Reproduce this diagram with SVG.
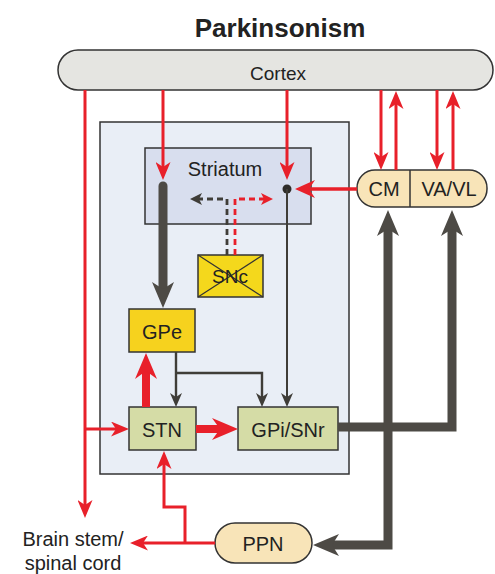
<svg xmlns="http://www.w3.org/2000/svg" width="495" height="574" viewBox="0 0 495 574">
<style>
  text { font-family: "Liberation Sans", Arial, sans-serif; fill: #222; text-anchor: middle; }
  .lbl { font-size: 20px; }
  .box { stroke: #333; stroke-width: 1.5; }
  .red { fill: none; stroke: #e8202a; stroke-width: 3; }
  .redT { fill: none; stroke: #e8202a; stroke-width: 8; }
  .dk { fill: none; stroke: #3f3d38; stroke-width: 2.4; }
  .dkT { fill: none; stroke: #4d4a45; stroke-width: 9; stroke-linejoin: miter; }
</style>
<defs>
  <marker id="rThin" markerUnits="userSpaceOnUse" markerWidth="18" markerHeight="15" refX="12" refY="7.5" orient="auto">
    <path d="M0,0 L18,7.5 L0,15 L5,7.5 Z" fill="#e8202a"/>
  </marker>
  <marker id="rMid" markerUnits="userSpaceOnUse" markerWidth="20" markerHeight="18" refX="12" refY="9" orient="auto">
    <path d="M0,0 L20,9 L0,18 L6,9 Z" fill="#e8202a"/>
  </marker>
  <marker id="rThick" markerUnits="userSpaceOnUse" markerWidth="26" markerHeight="22" refX="14" refY="11" orient="auto">
    <path d="M0,0 L26,11 L0,22 L8,11 Z" fill="#e8202a"/>
  </marker>
  <marker id="rDash" markerUnits="userSpaceOnUse" markerWidth="12" markerHeight="12" refX="6" refY="6" orient="auto">
    <path d="M0,0 L12,6 L0,12 L3,6 Z" fill="#e8202a"/>
  </marker>
  <marker id="kDash" markerUnits="userSpaceOnUse" markerWidth="12" markerHeight="12" refX="6" refY="6" orient="auto">
    <path d="M0,0 L12,6 L0,12 L3,6 Z" fill="#3f3d38"/>
  </marker>
  <marker id="kThin" markerUnits="userSpaceOnUse" markerWidth="14" markerHeight="12" refX="8" refY="6" orient="auto">
    <path d="M0,0 L14,6 L0,12 L4,6 Z" fill="#3f3d38"/>
  </marker>
  <marker id="kThick" markerUnits="userSpaceOnUse" markerWidth="26" markerHeight="22" refX="13" refY="11" orient="auto">
    <path d="M0,0 L26,11 L0,22 L7,11 Z" fill="#4d4a45"/>
  </marker>
</defs>
<rect width="495" height="574" fill="#ffffff"/>

<text x="280" y="37" style="font-size:26px;font-weight:bold;">Parkinsonism</text>

<g id="basal-ganglia">
  <rect x="100" y="122" width="249" height="352" fill="#e9eef6" class="box"/>
</g>

<g id="cortex">
  <rect x="58" y="50" width="435" height="40" rx="20" ry="20" fill="#e5e5e1" class="box"/>
  <text x="278" y="80" style="font-size:19px;">Cortex</text>
</g>

<g id="striatum">
  <rect x="145" y="148" width="166" height="76" fill="#d8deee" class="box"/>
  <text x="225" y="176" class="lbl">Striatum</text>
</g>

<g id="snc">
  <rect x="198" y="255" width="65" height="42" fill="#f4d81c" class="box"/>
  <line x1="198" y1="255" x2="263" y2="297" stroke="#333" stroke-width="1.2"/>
  <line x1="198" y1="297" x2="263" y2="255" stroke="#333" stroke-width="1.2"/>
  <text x="230" y="283" style="font-size:19px;">SNc</text>
</g>

<g id="gpe">
  <rect x="129" y="309" width="66" height="43" fill="#f6d21e" class="box"/>
  <text x="162" y="339" class="lbl">GPe</text>
</g>

<g id="stn">
  <rect x="129" y="407" width="67" height="43" fill="#d5dca6" class="box"/>
  <text x="162" y="437" class="lbl">STN</text>
</g>

<g id="gpi-snr">
  <rect x="238" y="407" width="100" height="43" fill="#d5dca6" class="box"/>
  <text x="288" y="437" class="lbl">GPi/SNr</text>
</g>

<g id="thalamus">
  <rect x="357" y="170" width="130" height="37" rx="18" ry="18" fill="#f8e4b8" class="box"/>
  <line x1="410" y1="170" x2="410" y2="207" stroke="#333" stroke-width="1.5"/>
  <text x="384" y="196" class="lbl">CM</text>
  <text x="449" y="196" class="lbl">VA/VL</text>
</g>

<g id="ppn">
  <rect x="215" y="523" width="97" height="40" rx="20" ry="20" fill="#f8e4b8" class="box"/>
  <text x="263" y="551" class="lbl">PPN</text>
</g>

<g id="brainstem">
  <text x="73" y="546" class="lbl">Brain stem/</text>
  <text x="73" y="570" class="lbl">spinal cord</text>
</g>

<g id="connectors">
  <!-- cortex outputs -->
  <path class="red" d="M85,90 V512" marker-end="url(#rThin)"/>
  <path class="red" d="M85,429 H123" marker-end="url(#rThin)"/>
  <path class="red" d="M163,90 V174" marker-end="url(#rThin)"/>
  <path class="red" d="M287,90 V174" marker-end="url(#rThin)"/>
  <path class="red" d="M381,90 V164" marker-end="url(#rThin)"/>
  <path class="red" d="M396,170 V97" marker-end="url(#rThin)"/>
  <path class="red" d="M437,90 V164" marker-end="url(#rThin)"/>
  <path class="red" d="M453,170 V97" marker-end="url(#rThin)"/>
  <!-- CM to striatum -->
  <path class="red" style="stroke-width:3.5" d="M357,189 H303" marker-end="url(#rMid)"/>
  <circle cx="287" cy="189" r="4.5" fill="#2f2d2a"/>
  <!-- SNc dashed -->
  <path class="dk" style="stroke-width:2.8;stroke-dasharray:6,4" d="M227,255 V199 H196" marker-end="url(#kDash)"/>
  <path class="red" style="stroke-width:2.8;stroke-dasharray:6,4" d="M235,255 V199 H267" marker-end="url(#rDash)"/>
  <!-- striatum to GPe -->
  <path class="dkT" style="stroke-linecap:round" d="M163,186 V295" marker-end="url(#kThick)"/>
  <!-- striatum direct to GPi -->
  <path class="dk" style="stroke-width:2" d="M287,189 V401" marker-end="url(#kThin)"/>
  <!-- GPe outputs -->
  <path class="dk" d="M176,352 V401" marker-end="url(#kThin)"/>
  <path class="dk" d="M176,373 H262 V401" marker-end="url(#kThin)"/>
  <!-- STN outputs -->
  <path class="redT" d="M146,407 V365" marker-end="url(#rThick)"/>
  <path class="redT" d="M196,429 H226" marker-end="url(#rThick)"/>
  <!-- GPi outputs -->
  <path class="dkT" d="M338,427 H452 V223" marker-end="url(#kThick)"/>
  <path class="dkT" d="M388,427 V223" marker-end="url(#kThick)"/>
  <path class="dkT" d="M388,427 V545 H326" marker-end="url(#kThick)"/>
  <!-- PPN outputs -->
  <path class="red" d="M215,543 H136" marker-end="url(#rThin)"/>
  <path class="red" d="M185,543 V507 H164 V457" marker-end="url(#rThin)"/>
</g>
</svg>
